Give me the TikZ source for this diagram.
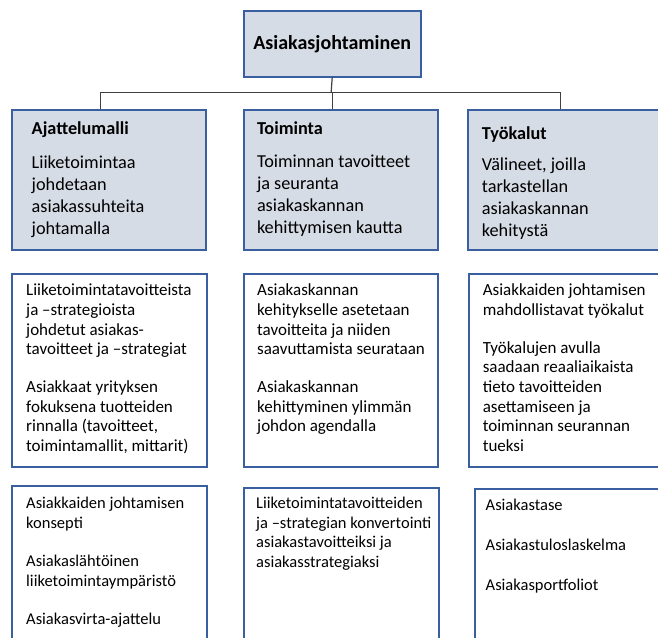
\documentclass[tikz,border=0pt]{standalone}
\usepackage{fontspec}
\setmainfont{Carlito}
\definecolor{reunasin}{RGB}{58,95,160}
\definecolor{pohjaharmaa}{RGB}{214,220,229}
\definecolor{viiva}{RGB}{64,64,64}
\newcommand{\alku}{\rule{0pt}{20pt}}
\tikzset{
  every picture/.style={x=1pt, y=-1pt, line join=miter},
  laatikko/.style={draw=reunasin, line width=2pt, anchor=north west, inner sep=0pt},
  otsikko/.style={laatikko, fill=pohjaharmaa},
  valkoinen/.style={laatikko, fill=white},
  teksti/.style={anchor=north west, align=left, inner sep=0pt, font=\fontsize{17}{19.7}\selectfont},
  isoteksti/.style={teksti, font=\fontsize{18.25}{22}\selectfont},
  pienteksti/.style={teksti, font=\fontsize{16.5}{19.5}\selectfont},
  yhteys/.style={draw=viiva, line width=1.2pt},
}

\begin{document}
\begin{tikzpicture}
\useasboundingbox (0,0) rectangle (658,637);
\clip (0,0) rectangle (658,637);

\node[otsikko, minimum width=177pt, minimum height=65.5pt, font=\fontsize{20}{24}\selectfont\bfseries] (johto) at (242.7,10) {Asiakasjohtaminen};

\node[otsikko, minimum width=194.5pt, minimum height=140pt] (ajattelu) at (10.5,109.3) {};
\node[otsikko, minimum width=194pt, minimum height=140pt] (toiminta) at (242.5,109.3) {};
\node[otsikko, minimum width=200pt, minimum height=140pt] (tyokalut) at (467,109.3) {};

\coordinate (haara) at (331.15,92.3);
\draw[yhteys] (johto.south) -- (haara);
\draw[yhteys] (haara) -| ([xshift=-8.45pt]ajattelu.north);
\draw[yhteys] (haara) -| ([xshift=-8.35pt]toiminta.north);
\draw[yhteys] (haara) -| ([xshift=-7.6pt]tyokalut.north);

\node[isoteksti] (ajattelutxt) at (31.5,114.5) {\alku\textbf{Ajattelumalli}\\[11.5pt]Liiketoimintaa\\johdetaan\\asiakassuhteita\\johtamalla};
\node[isoteksti] (toimintatxt) at (256.8,114.5) {\alku\textbf{Toiminta}\\[11pt]Toiminnan tavoitteet\\ja seuranta\\asiakaskannan\\kehittymisen kautta};
\node[isoteksti] (tyokaluttxt) at (481.7,119.5) {\alku\textbf{Työkalut}\\[9pt]Välineet, joilla\\tarkastellan\\asiakaskannan\\kehitystä};

\node[valkoinen, minimum width=195pt, minimum height=193.3pt] (ajattelu2) at (10.5,272.7) {};
\node[valkoinen, minimum width=194pt, minimum height=193.3pt] (toiminta2) at (242.5,272.7) {};
\node[valkoinen, minimum width=200pt, minimum height=193.3pt] (tyokalut2) at (468,272.7) {};

\node[teksti] (ajattelu2txt) at (26,275.5) {\alku Liiketoimintatavoitteista\\ja –strategioista\\johdetut asiakas-\\tavoitteet ja –strategiat\\[18pt]Asiakkaat yrityksen\\fokuksena tuotteiden\\rinnalla (tavoitteet,\\toimintamallit, mittarit)};
\node[teksti] (toiminta2txt) at (257,275.5) {\alku Asiakaskannan\\kehitykselle asetetaan\\tavoitteita ja niiden\\saavuttamista seurataan\\[18pt]Asiakaskannan\\kehittyminen ylimmän\\johdon agendalla};
\node[teksti] (tyokalut2txt) at (482.6,275.5) {\alku Asiakkaiden johtamisen\\mahdollistavat työkalut\\[18pt]Työkalujen avulla\\saadaan reaaliaikaista\\tieto tavoitteiden\\asettamiseen ja\\toiminnan seurannan\\tueksi};

\node[valkoinen, minimum width=195pt, minimum height=170pt] (ajattelu3) at (10.5,485) {};
\node[valkoinen, minimum width=194.5pt, minimum height=170pt] (toiminta3) at (243,487) {};
\node[valkoinen, minimum width=200pt, minimum height=170pt] (tyokalut3) at (473.5,488.3) {};

\node[pienteksti] (ajattelu3txt) at (26,488.5) {\alku Asiakkaiden johtamisen\\konsepti\\[19pt]Asiakaslähtöinen\\liiketoimintaympäristö\\[19pt]Asiakasvirta-ajattelu};
\node[pienteksti] (toiminta3txt) at (256,488.5) {\alku Liiketoimintatavoitteiden\\ja –strategian konvertointi\\asiakastavoitteiksi ja\\asiakasstrategiaksi};
\node[pienteksti] (tyokalut3txt) at (485.5,490.5) {\alku Asiakastase\\[20.5pt]Asiakastuloslaskelma\\[20.5pt]Asiakasportfoliot};
\end{tikzpicture}
\end{document}
